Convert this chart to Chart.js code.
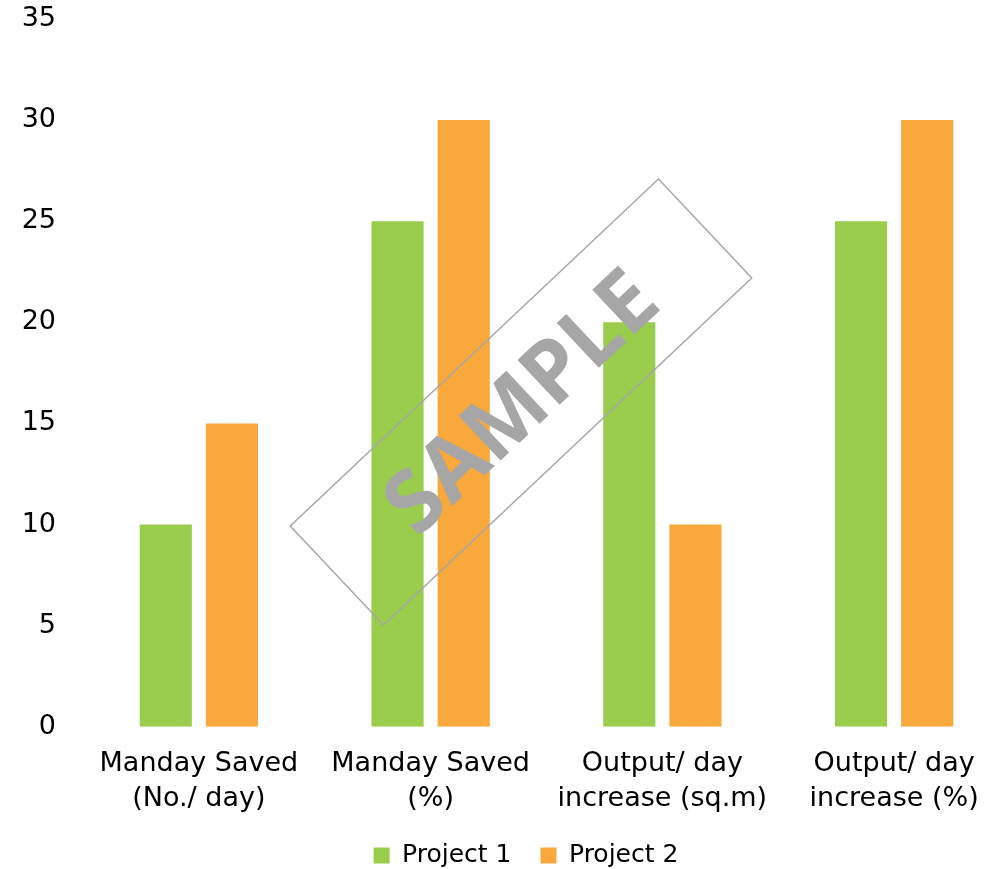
<!DOCTYPE html>
<html>
<head>
<meta charset="utf-8">
<script src="https://cdn.jsdelivr.net/npm/chart.js@4/dist/chart.umd.min.js"></script>
<style>
    html, body { margin: 0; padding: 0; background: #fff; overflow: hidden; }
    #wrap { width: 1010px; height: 869px; position: relative; }
</style>
</head>
<body>
<div id="wrap"><canvas id="bar_chart"></canvas></div>
<script>
const categories = [
    ['Manday Saved', '(No./ day)'],
    ['Manday Saved', '(%)'],
    ['Output/ day', 'increase (sq.m)'],
    ['Output/ day', 'increase (%)'],
];
const project1 = [10, 25, 20, 25];
const project2 = [15, 30, 10, 30];
const yTicks = [0, 5, 10, 15, 20, 25, 30, 35];

const green = '#9bcd4c';
const orange = '#f9a83b';
const fontFamily = '"DejaVu Sans", sans-serif';

// gray "SAMPLE" stamp over the plot
const sampleStamp = {
    id: 'sampleStamp',
    afterDraw(chart) {
        const ctx = chart.ctx;
        ctx.save();
        ctx.translate(521, 402);
        ctx.rotate(-43.3 * Math.PI / 180);
        ctx.strokeStyle = '#a6a6a6';
        ctx.lineWidth = 1.5;
        ctx.strokeRect(-253, -68, 506, 136);
        ctx.fillStyle = '#a6a6a6';
        ctx.font = 'bold 86px "Open Sans", sans-serif';
        ctx.textAlign = 'center';
        ctx.textBaseline = 'middle';
        ctx.fillText('SAMPLE', 0, 4);
        ctx.restore();
    }
};

// legend sits a bit right of centre and tight under the axis labels
const legendNudge = {
    id: 'legendNudge',
    afterLayout(chart) {
        const lg = chart.legend;
        lg.left += 21;
        lg.right += 21;
        lg.top -= 14;
        lg.bottom = chart.height;
        lg.height = lg.bottom - lg.top;
    }
};

const bar_chart = document.getElementById('bar_chart');

const data = {
    labels: categories,
    datasets: [{
        label: 'Project 1',
        backgroundColor: green,
        data: project1,
        barPercentage: 0.788,
        categoryPercentage: 0.571
    }, {
        label: 'Project 2',
        backgroundColor: orange,
        data: project2,
        barPercentage: 0.788,
        categoryPercentage: 0.571
    }]
};

const config = {
    type: 'bar',
    data: data,
    options: {
        responsive: true,
        maintainAspectRatio: false,
        animation: false,
        layout: {
            padding: { top: 19, bottom: 0 }
        },
        plugins: {
            title: { display: false },
            tooltip: { enabled: false },
            legend: {
                display: true,
                position: 'bottom',
                maxHeight: 41,
                labels: {
                    boxWidth: 16,
                    boxHeight: 16,
                    padding: 29,
                    color: '#000',
                    font: { family: fontFamily, size: 25 }
                }
            }
        },
        scales: {
            y: {
                min: 0,
                max: 35,
                afterBuildTicks: (scale) => {
                    scale.ticks = yTicks.map(v => ({ value: v }));
                },
                afterFit: (scale) => {
                    scale.width = 83;
                },
                ticks: {
                    color: '#000',
                    padding: 0,
                    font: { family: fontFamily, size: 27 }
                },
                grid: { display: false, drawTicks: true, tickLength: 27 },
                border: { display: false }
            },
            x: {
                ticks: {
                    color: '#000',
                    padding: 11,
                    maxRotation: 0,
                    autoSkip: false,
                    font: { family: fontFamily, size: 27, lineHeight: 1.32 }
                },
                grid: { display: false },
                border: { display: false }
            }
        }
    },
    plugins: [sampleStamp, legendNudge]
};

const myChart = new Chart(bar_chart, config);
</script>
</body>
</html>
